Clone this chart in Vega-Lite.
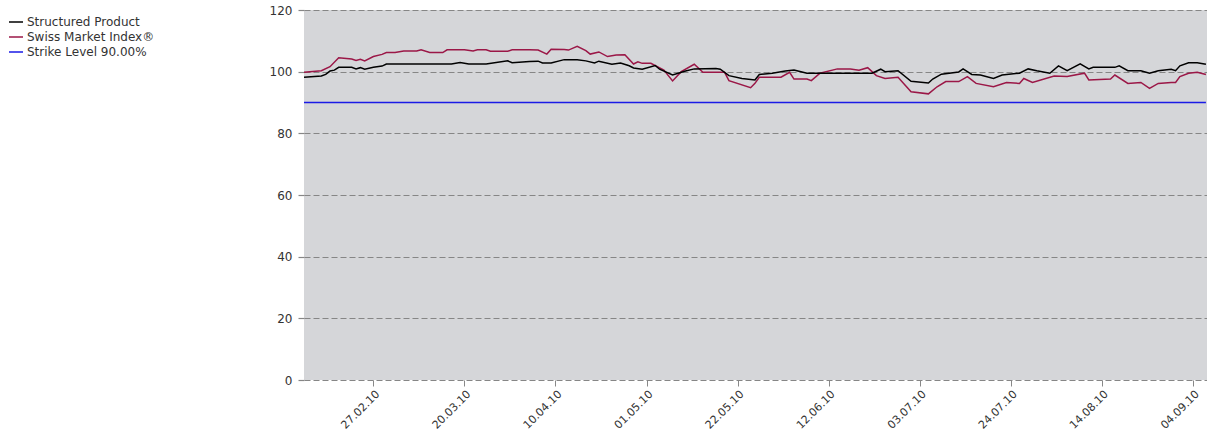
{
  "$schema": "https://vega.github.io/schema/vega-lite/v6.json",
  "width": 903,
  "height": 370,
  "autosize": {"type": "none"},
  "padding": {"left": 304, "top": 10, "right": 0, "bottom": 52},
  "background": "#ffffff",
  "config": {
    "view": {"fill": "#d5d6d9", "stroke": null},
    "font": "DejaVu Sans"
  },
  "data": {
    "values": [
      {"date": "2010-02-11", "series": "Strike Level 90.00%", "value": 90},
      {"date": "2010-09-07", "series": "Strike Level 90.00%", "value": 90},
      {"date": "2010-02-11", "series": "Swiss Market Index®", "value": 99.8},
      {"date": "2010-02-15", "series": "Swiss Market Index®", "value": 100.3},
      {"date": "2010-02-17", "series": "Swiss Market Index®", "value": 101.6},
      {"date": "2010-02-19", "series": "Swiss Market Index®", "value": 104.5},
      {"date": "2010-02-22", "series": "Swiss Market Index®", "value": 104.1},
      {"date": "2010-02-23", "series": "Swiss Market Index®", "value": 103.6},
      {"date": "2010-02-24", "series": "Swiss Market Index®", "value": 104.0},
      {"date": "2010-02-25", "series": "Swiss Market Index®", "value": 103.5},
      {"date": "2010-02-27", "series": "Swiss Market Index®", "value": 104.9},
      {"date": "2010-03-01", "series": "Swiss Market Index®", "value": 105.6},
      {"date": "2010-03-02", "series": "Swiss Market Index®", "value": 106.2},
      {"date": "2010-03-04", "series": "Swiss Market Index®", "value": 106.2},
      {"date": "2010-03-06", "series": "Swiss Market Index®", "value": 106.7},
      {"date": "2010-03-09", "series": "Swiss Market Index®", "value": 106.7},
      {"date": "2010-03-10", "series": "Swiss Market Index®", "value": 107.1},
      {"date": "2010-03-12", "series": "Swiss Market Index®", "value": 106.2},
      {"date": "2010-03-15", "series": "Swiss Market Index®", "value": 106.2},
      {"date": "2010-03-16", "series": "Swiss Market Index®", "value": 107.1},
      {"date": "2010-03-20", "series": "Swiss Market Index®", "value": 107.1},
      {"date": "2010-03-22", "series": "Swiss Market Index®", "value": 106.7},
      {"date": "2010-03-23", "series": "Swiss Market Index®", "value": 107.1},
      {"date": "2010-03-25", "series": "Swiss Market Index®", "value": 107.1},
      {"date": "2010-03-26", "series": "Swiss Market Index®", "value": 106.6},
      {"date": "2010-03-30", "series": "Swiss Market Index®", "value": 106.6},
      {"date": "2010-03-31", "series": "Swiss Market Index®", "value": 107.1},
      {"date": "2010-04-04", "series": "Swiss Market Index®", "value": 107.1},
      {"date": "2010-04-06", "series": "Swiss Market Index®", "value": 107.0},
      {"date": "2010-04-08", "series": "Swiss Market Index®", "value": 105.7},
      {"date": "2010-04-09", "series": "Swiss Market Index®", "value": 107.3},
      {"date": "2010-04-12", "series": "Swiss Market Index®", "value": 107.2},
      {"date": "2010-04-13", "series": "Swiss Market Index®", "value": 107.0},
      {"date": "2010-04-15", "series": "Swiss Market Index®", "value": 108.2},
      {"date": "2010-04-17", "series": "Swiss Market Index®", "value": 106.8},
      {"date": "2010-04-18", "series": "Swiss Market Index®", "value": 105.7},
      {"date": "2010-04-20", "series": "Swiss Market Index®", "value": 106.4},
      {"date": "2010-04-22", "series": "Swiss Market Index®", "value": 104.9},
      {"date": "2010-04-24", "series": "Swiss Market Index®", "value": 105.4},
      {"date": "2010-04-26", "series": "Swiss Market Index®", "value": 105.5},
      {"date": "2010-04-28", "series": "Swiss Market Index®", "value": 102.5},
      {"date": "2010-04-29", "series": "Swiss Market Index®", "value": 103.2},
      {"date": "2010-04-30", "series": "Swiss Market Index®", "value": 102.7},
      {"date": "2010-05-02", "series": "Swiss Market Index®", "value": 102.7},
      {"date": "2010-05-05", "series": "Swiss Market Index®", "value": 100.5},
      {"date": "2010-05-07", "series": "Swiss Market Index®", "value": 97.0},
      {"date": "2010-05-09", "series": "Swiss Market Index®", "value": 100.0},
      {"date": "2010-05-12", "series": "Swiss Market Index®", "value": 102.4},
      {"date": "2010-05-14", "series": "Swiss Market Index®", "value": 99.8},
      {"date": "2010-05-19", "series": "Swiss Market Index®", "value": 99.8},
      {"date": "2010-05-20", "series": "Swiss Market Index®", "value": 97.1},
      {"date": "2010-05-25", "series": "Swiss Market Index®", "value": 94.8},
      {"date": "2010-05-26", "series": "Swiss Market Index®", "value": 96.2},
      {"date": "2010-05-27", "series": "Swiss Market Index®", "value": 98.2},
      {"date": "2010-06-01", "series": "Swiss Market Index®", "value": 98.2},
      {"date": "2010-06-03", "series": "Swiss Market Index®", "value": 99.8},
      {"date": "2010-06-04", "series": "Swiss Market Index®", "value": 97.6},
      {"date": "2010-06-07", "series": "Swiss Market Index®", "value": 97.6},
      {"date": "2010-06-08", "series": "Swiss Market Index®", "value": 97.1},
      {"date": "2010-06-10", "series": "Swiss Market Index®", "value": 99.5},
      {"date": "2010-06-14", "series": "Swiss Market Index®", "value": 100.9},
      {"date": "2010-06-17", "series": "Swiss Market Index®", "value": 100.9},
      {"date": "2010-06-19", "series": "Swiss Market Index®", "value": 100.5},
      {"date": "2010-06-21", "series": "Swiss Market Index®", "value": 101.3},
      {"date": "2010-06-23", "series": "Swiss Market Index®", "value": 98.7},
      {"date": "2010-06-25", "series": "Swiss Market Index®", "value": 97.8},
      {"date": "2010-06-28", "series": "Swiss Market Index®", "value": 98.2},
      {"date": "2010-07-01", "series": "Swiss Market Index®", "value": 93.5},
      {"date": "2010-07-05", "series": "Swiss Market Index®", "value": 92.8},
      {"date": "2010-07-07", "series": "Swiss Market Index®", "value": 95.1},
      {"date": "2010-07-09", "series": "Swiss Market Index®", "value": 96.8},
      {"date": "2010-07-12", "series": "Swiss Market Index®", "value": 96.8},
      {"date": "2010-07-14", "series": "Swiss Market Index®", "value": 98.4},
      {"date": "2010-07-16", "series": "Swiss Market Index®", "value": 96.2},
      {"date": "2010-07-20", "series": "Swiss Market Index®", "value": 95.1},
      {"date": "2010-07-23", "series": "Swiss Market Index®", "value": 96.5},
      {"date": "2010-07-26", "series": "Swiss Market Index®", "value": 96.2},
      {"date": "2010-07-27", "series": "Swiss Market Index®", "value": 97.8},
      {"date": "2010-07-29", "series": "Swiss Market Index®", "value": 96.5},
      {"date": "2010-08-03", "series": "Swiss Market Index®", "value": 98.6},
      {"date": "2010-08-06", "series": "Swiss Market Index®", "value": 98.4},
      {"date": "2010-08-10", "series": "Swiss Market Index®", "value": 99.5},
      {"date": "2010-08-11", "series": "Swiss Market Index®", "value": 97.3},
      {"date": "2010-08-16", "series": "Swiss Market Index®", "value": 97.6},
      {"date": "2010-08-17", "series": "Swiss Market Index®", "value": 98.9},
      {"date": "2010-08-20", "series": "Swiss Market Index®", "value": 96.2},
      {"date": "2010-08-23", "series": "Swiss Market Index®", "value": 96.5},
      {"date": "2010-08-25", "series": "Swiss Market Index®", "value": 94.6},
      {"date": "2010-08-27", "series": "Swiss Market Index®", "value": 96.2},
      {"date": "2010-08-30", "series": "Swiss Market Index®", "value": 96.5},
      {"date": "2010-08-31", "series": "Swiss Market Index®", "value": 96.5},
      {"date": "2010-09-01", "series": "Swiss Market Index®", "value": 98.4},
      {"date": "2010-09-03", "series": "Swiss Market Index®", "value": 99.5},
      {"date": "2010-09-05", "series": "Swiss Market Index®", "value": 99.8},
      {"date": "2010-09-07", "series": "Swiss Market Index®", "value": 99.1},
      {"date": "2010-02-11", "series": "Structured Product", "value": 98.2},
      {"date": "2010-02-15", "series": "Structured Product", "value": 98.6},
      {"date": "2010-02-16", "series": "Structured Product", "value": 99.1},
      {"date": "2010-02-17", "series": "Structured Product", "value": 100.2},
      {"date": "2010-02-18", "series": "Structured Product", "value": 100.5},
      {"date": "2010-02-19", "series": "Structured Product", "value": 101.4},
      {"date": "2010-02-22", "series": "Structured Product", "value": 101.4},
      {"date": "2010-02-23", "series": "Structured Product", "value": 100.9},
      {"date": "2010-02-24", "series": "Structured Product", "value": 101.3},
      {"date": "2010-02-25", "series": "Structured Product", "value": 100.8},
      {"date": "2010-02-27", "series": "Structured Product", "value": 101.4},
      {"date": "2010-03-01", "series": "Structured Product", "value": 101.8},
      {"date": "2010-03-02", "series": "Structured Product", "value": 102.5},
      {"date": "2010-03-05", "series": "Structured Product", "value": 102.5},
      {"date": "2010-03-17", "series": "Structured Product", "value": 102.5},
      {"date": "2010-03-19", "series": "Structured Product", "value": 103.0},
      {"date": "2010-03-21", "series": "Structured Product", "value": 102.5},
      {"date": "2010-03-25", "series": "Structured Product", "value": 102.5},
      {"date": "2010-03-30", "series": "Structured Product", "value": 103.5},
      {"date": "2010-03-31", "series": "Structured Product", "value": 102.9},
      {"date": "2010-04-04", "series": "Structured Product", "value": 103.3},
      {"date": "2010-04-06", "series": "Structured Product", "value": 103.4},
      {"date": "2010-04-07", "series": "Structured Product", "value": 102.8},
      {"date": "2010-04-09", "series": "Structured Product", "value": 102.8},
      {"date": "2010-04-12", "series": "Structured Product", "value": 103.9},
      {"date": "2010-04-15", "series": "Structured Product", "value": 103.9},
      {"date": "2010-04-17", "series": "Structured Product", "value": 103.5},
      {"date": "2010-04-19", "series": "Structured Product", "value": 102.8},
      {"date": "2010-04-20", "series": "Structured Product", "value": 103.4},
      {"date": "2010-04-23", "series": "Structured Product", "value": 102.4},
      {"date": "2010-04-25", "series": "Structured Product", "value": 102.8},
      {"date": "2010-04-27", "series": "Structured Product", "value": 101.9},
      {"date": "2010-04-28", "series": "Structured Product", "value": 101.2},
      {"date": "2010-04-30", "series": "Structured Product", "value": 100.8},
      {"date": "2010-05-03", "series": "Structured Product", "value": 102.0},
      {"date": "2010-05-04", "series": "Structured Product", "value": 100.8},
      {"date": "2010-05-07", "series": "Structured Product", "value": 98.9},
      {"date": "2010-05-10", "series": "Structured Product", "value": 100.2},
      {"date": "2010-05-12", "series": "Structured Product", "value": 100.9},
      {"date": "2010-05-17", "series": "Structured Product", "value": 101.0},
      {"date": "2010-05-18", "series": "Structured Product", "value": 100.8},
      {"date": "2010-05-20", "series": "Structured Product", "value": 98.7},
      {"date": "2010-05-23", "series": "Structured Product", "value": 97.8},
      {"date": "2010-05-26", "series": "Structured Product", "value": 97.3},
      {"date": "2010-05-27", "series": "Structured Product", "value": 99.1},
      {"date": "2010-05-30", "series": "Structured Product", "value": 99.5},
      {"date": "2010-06-02", "series": "Structured Product", "value": 100.2},
      {"date": "2010-06-04", "series": "Structured Product", "value": 100.5},
      {"date": "2010-06-07", "series": "Structured Product", "value": 99.5},
      {"date": "2010-06-22", "series": "Structured Product", "value": 99.5},
      {"date": "2010-06-24", "series": "Structured Product", "value": 100.8},
      {"date": "2010-06-25", "series": "Structured Product", "value": 100.0},
      {"date": "2010-06-28", "series": "Structured Product", "value": 100.3},
      {"date": "2010-07-01", "series": "Structured Product", "value": 96.9},
      {"date": "2010-07-05", "series": "Structured Product", "value": 96.3},
      {"date": "2010-07-06", "series": "Structured Product", "value": 97.6},
      {"date": "2010-07-08", "series": "Structured Product", "value": 99.2},
      {"date": "2010-07-12", "series": "Structured Product", "value": 99.9},
      {"date": "2010-07-13", "series": "Structured Product", "value": 100.9},
      {"date": "2010-07-15", "series": "Structured Product", "value": 99.1},
      {"date": "2010-07-17", "series": "Structured Product", "value": 98.9},
      {"date": "2010-07-20", "series": "Structured Product", "value": 97.8},
      {"date": "2010-07-22", "series": "Structured Product", "value": 98.9},
      {"date": "2010-07-26", "series": "Structured Product", "value": 99.5},
      {"date": "2010-07-28", "series": "Structured Product", "value": 100.9},
      {"date": "2010-07-30", "series": "Structured Product", "value": 100.3},
      {"date": "2010-08-02", "series": "Structured Product", "value": 99.5},
      {"date": "2010-08-04", "series": "Structured Product", "value": 101.9},
      {"date": "2010-08-06", "series": "Structured Product", "value": 100.3},
      {"date": "2010-08-09", "series": "Structured Product", "value": 102.5},
      {"date": "2010-08-11", "series": "Structured Product", "value": 100.9},
      {"date": "2010-08-12", "series": "Structured Product", "value": 101.4},
      {"date": "2010-08-17", "series": "Structured Product", "value": 101.4},
      {"date": "2010-08-18", "series": "Structured Product", "value": 101.9},
      {"date": "2010-08-20", "series": "Structured Product", "value": 100.3},
      {"date": "2010-08-23", "series": "Structured Product", "value": 100.3},
      {"date": "2010-08-25", "series": "Structured Product", "value": 99.5},
      {"date": "2010-08-27", "series": "Structured Product", "value": 100.3},
      {"date": "2010-08-30", "series": "Structured Product", "value": 100.8},
      {"date": "2010-08-31", "series": "Structured Product", "value": 100.3},
      {"date": "2010-09-01", "series": "Structured Product", "value": 101.9},
      {"date": "2010-09-03", "series": "Structured Product", "value": 102.9},
      {"date": "2010-09-05", "series": "Structured Product", "value": 102.9},
      {"date": "2010-09-07", "series": "Structured Product", "value": 102.4}
    ]
  },
  "mark": {"type": "line", "strokeWidth": 1.5, "clip": true},
  "encoding": {
    "x": {
      "field": "date",
      "type": "temporal",
      "scale": {
        "type": "utc",
        "domain": [
          {"year": 2010, "month": 2, "date": 11, "utc": true},
          {"year": 2010, "month": 9, "date": 7, "hours": 6, "utc": true}
        ]
      },
      "axis": {
        "title": null,
        "values": [
          {"year": 2010, "month": 2, "date": 27, "utc": true},
          {"year": 2010, "month": 3, "date": 20, "utc": true},
          {"year": 2010, "month": 4, "date": 10, "utc": true},
          {"year": 2010, "month": 5, "date": 1, "utc": true},
          {"year": 2010, "month": 5, "date": 22, "utc": true},
          {"year": 2010, "month": 6, "date": 12, "utc": true},
          {"year": 2010, "month": 7, "date": 3, "utc": true},
          {"year": 2010, "month": 7, "date": 24, "utc": true},
          {"year": 2010, "month": 8, "date": 14, "utc": true},
          {"year": 2010, "month": 9, "date": 4, "utc": true}
        ],
        "labelExpr": "utcFormat(datum.value, '%d.%m.%y')",
        "labelAngle": -45,
        "labelFontSize": 11,
        "labelColor": "#333333",
        "labelPadding": 2,
        "labelFont": "DejaVu Sans",
        "grid": false,
        "domain": false,
        "ticks": true,
        "tickSize": 6,
        "tickColor": "#888888",
        "labelOverlap": false
      }
    },
    "y": {
      "field": "value",
      "type": "quantitative",
      "scale": {"domain": [0, 120], "nice": false, "zero": true},
      "axis": {
        "title": null,
        "values": [0, 20, 40, 60, 80, 100, 120],
        "grid": true,
        "gridColor": "#868686",
        "gridDash": [6, 3],
        "gridWidth": 1.2,
        "gridOpacity": 1,
        "domain": false,
        "ticks": true,
        "tickSize": 8,
        "tickColor": "#868686",
        "tickDash": [6, 3],
        "tickWidth": 1.2,
        "labelFontSize": 12,
        "labelColor": "#333333",
        "labelPadding": 4,
        "labelFont": "DejaVu Sans"
      }
    },
    "color": {
      "field": "series",
      "type": "nominal",
      "scale": {
        "domain": ["Structured Product", "Swiss Market Index®", "Strike Level 90.00%"],
        "range": ["#000000", "#9b1747", "#1a1ae6"]
      },
      "legend": {
        "title": null,
        "orient": "none",
        "legendX": -296,
        "legendY": 4,
        "symbolType": "stroke",
        "symbolSize": 196,
        "symbolStrokeWidth": 1.5,
        "symbolOffset": 0,
        "labelFontSize": 12,
        "labelColor": "#333333",
        "labelFont": "DejaVu Sans",
        "labelOffset": 3,
        "rowPadding": 1,
        "padding": 0
      }
    }
  }
}
